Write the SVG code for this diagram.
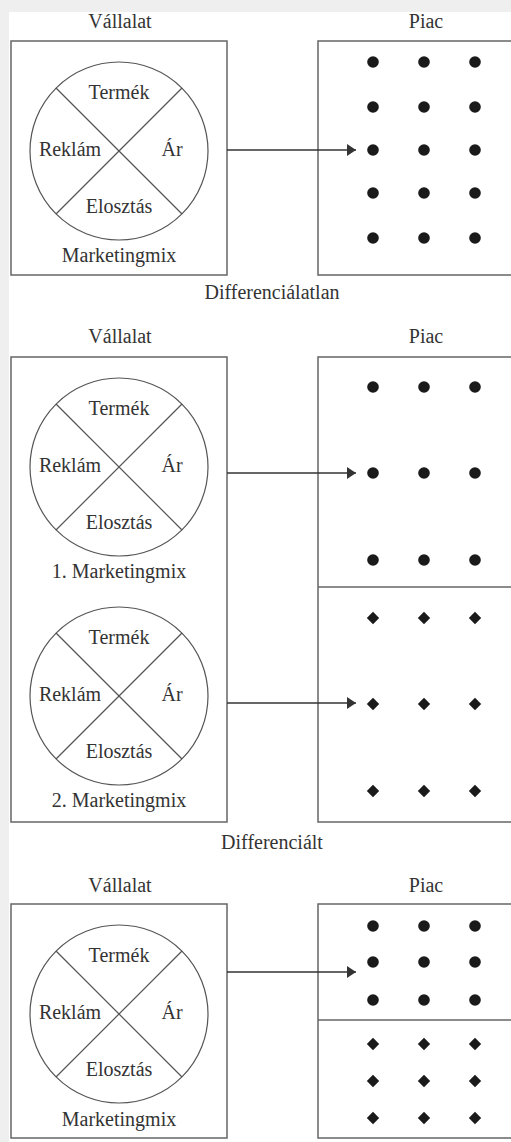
<svg xmlns="http://www.w3.org/2000/svg" width="511" height="1142" viewBox="0 0 511 1142" font-family="Liberation Serif, Times New Roman, serif">
<defs>
<style>
text{font-family:"Liberation Serif","Times New Roman",serif}
.t{font-size:20px;fill:#333;text-anchor:middle}
.box{fill:none;stroke:#666;stroke-width:1.5}
.ln{fill:none;stroke:#555;stroke-width:1.2}
.con{fill:none;stroke:#333;stroke-width:1.3}
.dot{fill:#1a1a1a}
</style>
<marker id="ah" markerWidth="10" markerHeight="12" refX="9" refY="6" orient="auto" markerUnits="userSpaceOnUse">
<path d="M0,0 L9,6 L0,12 Z" fill="#333"/>
</marker>
<circle id="d" r="5.8" class="dot"/>
<path id="q" d="M0,-6.2 L6.2,0 L0,6.2 L-6.2,0 Z" class="dot"/>
</defs>
<rect x="0" y="0" width="511" height="1142" fill="#efefef"/>
<rect x="9" y="12" width="502" height="1130" fill="#fff"/>

<g id="panel1">
<g id="p1-company">
<text x="120" y="28" class="t" font-family="Liberation Serif">Vállalat</text>
<rect x="11" y="41" width="216" height="234" class="box"/>
<g transform="translate(119,151)">
<circle cx="0" cy="0" r="89" class="ln"/>
<line x1="-63" y1="-63" x2="63" y2="63" class="ln"/>
<line x1="63" y1="-63" x2="-63" y2="63" class="ln"/>
<text x="0" y="-52" class="t">Termék</text>
<text x="-49" y="5" class="t">Reklám</text>
<text x="53" y="5" class="t">Ár</text>
<text x="0" y="62" class="t">Elosztás</text>
</g>
<text x="119" y="262" class="t">Marketingmix</text>
</g>
<g id="p1-market">
<text x="426" y="28" class="t">Piac</text>
<path d="M515,41 H318 V275 H515" class="box"/>
<use href="#d" x="373" y="62"/><use href="#d" x="424" y="62"/><use href="#d" x="475" y="62"/>
<use href="#d" x="373" y="107"/><use href="#d" x="424" y="107"/><use href="#d" x="475" y="107"/>
<use href="#d" x="373" y="150"/><use href="#d" x="424" y="150"/><use href="#d" x="475" y="150"/>
<use href="#d" x="373" y="193"/><use href="#d" x="424" y="193"/><use href="#d" x="475" y="193"/>
<use href="#d" x="373" y="238"/><use href="#d" x="424" y="238"/><use href="#d" x="475" y="238"/>
</g>
<text x="272" y="299" class="t">Differenciálatlan</text>
</g>

<g id="panel2">
<g id="p2-company">
<text x="120" y="343" class="t">Vállalat</text>
<rect x="11" y="357" width="216" height="465" class="box"/>
<g transform="translate(119,467)">
<circle cx="0" cy="0" r="89" class="ln"/>
<line x1="-63" y1="-63" x2="63" y2="63" class="ln"/>
<line x1="63" y1="-63" x2="-63" y2="63" class="ln"/>
<text x="0" y="-52" class="t">Termék</text>
<text x="-49" y="5" class="t">Reklám</text>
<text x="53" y="5" class="t">Ár</text>
<text x="0" y="62" class="t">Elosztás</text>
</g>
<text x="119" y="578" class="t">1. Marketingmix</text>
<g transform="translate(119,696)">
<circle cx="0" cy="0" r="89" class="ln"/>
<line x1="-63" y1="-63" x2="63" y2="63" class="ln"/>
<line x1="63" y1="-63" x2="-63" y2="63" class="ln"/>
<text x="0" y="-52" class="t">Termék</text>
<text x="-49" y="5" class="t">Reklám</text>
<text x="53" y="5" class="t">Ár</text>
<text x="0" y="62" class="t">Elosztás</text>
</g>
<text x="119" y="807" class="t">2. Marketingmix</text>
</g>
<g id="p2-market">
<text x="426" y="343" class="t">Piac</text>
<path d="M515,357 H318 V822 H515" class="box"/>
<line x1="318" y1="587" x2="515" y2="587" class="box"/>
<use href="#d" x="373" y="387"/><use href="#d" x="424" y="387"/><use href="#d" x="475" y="387"/>
<use href="#d" x="373" y="473"/><use href="#d" x="424" y="473"/><use href="#d" x="475" y="473"/>
<use href="#d" x="373" y="560"/><use href="#d" x="424" y="560"/><use href="#d" x="475" y="560"/>
<use href="#q" x="373" y="618"/><use href="#q" x="424" y="618"/><use href="#q" x="475" y="618"/>
<use href="#q" x="373" y="704"/><use href="#q" x="424" y="704"/><use href="#q" x="475" y="704"/>
<use href="#q" x="373" y="791"/><use href="#q" x="424" y="791"/><use href="#q" x="475" y="791"/>
</g>
<text x="272" y="849" class="t">Differenciált</text>
</g>

<g id="panel3">
<g id="p3-company">
<text x="120" y="892" class="t">Vállalat</text>
<rect x="11" y="904" width="216" height="234" class="box"/>
<g transform="translate(119,1014)">
<circle cx="0" cy="0" r="89" class="ln"/>
<line x1="-63" y1="-63" x2="63" y2="63" class="ln"/>
<line x1="63" y1="-63" x2="-63" y2="63" class="ln"/>
<text x="0" y="-52" class="t">Termék</text>
<text x="-49" y="5" class="t">Reklám</text>
<text x="53" y="5" class="t">Ár</text>
<text x="0" y="62" class="t">Elosztás</text>
</g>
<text x="119" y="1126" class="t">Marketingmix</text>
</g>
<g id="p3-market">
<text x="426" y="892" class="t">Piac</text>
<path d="M515,904 H318 V1138 H515" class="box"/>
<line x1="318" y1="1020" x2="515" y2="1020" class="box"/>
<use href="#d" x="373" y="926"/><use href="#d" x="424" y="926"/><use href="#d" x="475" y="926"/>
<use href="#d" x="373" y="962"/><use href="#d" x="424" y="962"/><use href="#d" x="475" y="962"/>
<use href="#d" x="373" y="1000"/><use href="#d" x="424" y="1000"/><use href="#d" x="475" y="1000"/>
<use href="#q" x="373" y="1044"/><use href="#q" x="424" y="1044"/><use href="#q" x="475" y="1044"/>
<use href="#q" x="373" y="1081"/><use href="#q" x="424" y="1081"/><use href="#q" x="475" y="1081"/>
<use href="#q" x="373" y="1118"/><use href="#q" x="424" y="1118"/><use href="#q" x="475" y="1118"/>
</g>
</g>

<g id="connectors">
<line x1="227" y1="150" x2="356" y2="150" class="con" marker-end="url(#ah)"/>
<line x1="227" y1="473" x2="356" y2="473" class="con" marker-end="url(#ah)"/>
<line x1="227" y1="703" x2="356" y2="703" class="con" marker-end="url(#ah)"/>
<line x1="227" y1="972" x2="356" y2="972" class="con" marker-end="url(#ah)"/>
</g>
</svg>
